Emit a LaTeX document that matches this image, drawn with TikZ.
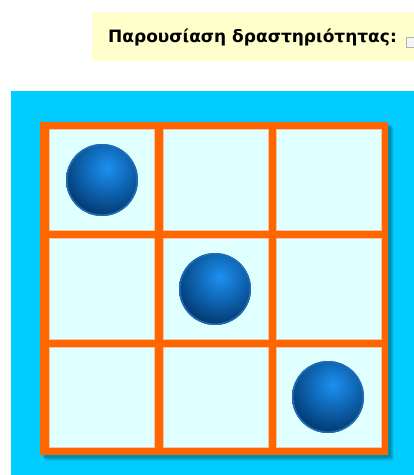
\documentclass[tikz,border=0pt]{standalone}
\usepackage{fontspec}
\newfontfamily\uifont{DejaVu Sans}
\usetikzlibrary{calc}
\definecolor{bannerY}{HTML}{FFFFCC}
\definecolor{bgCyan}{HTML}{00CCFF}
\definecolor{frameOr}{HTML}{FF6600}
\definecolor{cellC}{HTML}{E0FFFF}
\definecolor{cellEdge}{HTML}{F2C4A8}
\definecolor{shadowC}{HTML}{006E8C}
\definecolor{ballHi}{HTML}{1C90F2}
\definecolor{ballDk}{HTML}{00366C}
\definecolor{ballRim}{HTML}{1F6CB3}
\tikzset{
  cellbox/.style={fill=cellC, draw=cellEdge, line width=0.8pt},
  ballrim/.style={draw=ballRim, line width=1.6pt},
  label/.style={font=\uifont\bfseries\fontsize{17}{20}\selectfont, text=black, inner sep=0pt},
  chk/.style={draw=gray!60, fill=gray!8, line width=0.8pt}
}
\newcommand{\myball}[1]{%
  \begin{scope}
    \clip (#1) circle (36);
    \shade[inner color=ballHi, outer color=ballDk] ($(#1)+(5,-12)$) circle (50);
  \end{scope}
  \draw[ballrim] (#1) circle (35.2);
}
\begin{document}
\begin{tikzpicture}[x=1pt,y=-1pt]
\useasboundingbox (0,0) rectangle (414,475);
\fill[white] (0,0) rectangle (414,475);
% banner
\fill[bannerY] (92,12) rectangle (414,61);
\node[label, anchor=base west] (title) at (108,42.7) {Παρουσίαση δραστηριότητας:};
\draw[chk] (406.5,37.5) rectangle (417,47);
% background
\fill[bgCyan] (11,91) rectangle (414,475);
% shadow
\foreach \d/\o in {6/0.12,5/0.18,4/0.25,3/0.35}{
  \fill[shadowC, opacity=\o] (40+\d,122+\d) rectangle (388+\d,455+\d);
}
% frame
\fill[frameOr] (40,122) rectangle (388,455);
% cells
\foreach \xa/\xb in {49/154,163/268,276/381}{
  \foreach \ya/\yb in {129/230,238/339,347/447}{
    \draw[cellbox] (\xa,\ya) rectangle (\xb,\yb);
  }
}
% balls
\coordinate (b1) at (102,180);
\coordinate (b2) at (215,289);
\coordinate (b3) at (328,397);
\myball{b1}
\myball{b2}
\myball{b3}
\end{tikzpicture}
\end{document}
